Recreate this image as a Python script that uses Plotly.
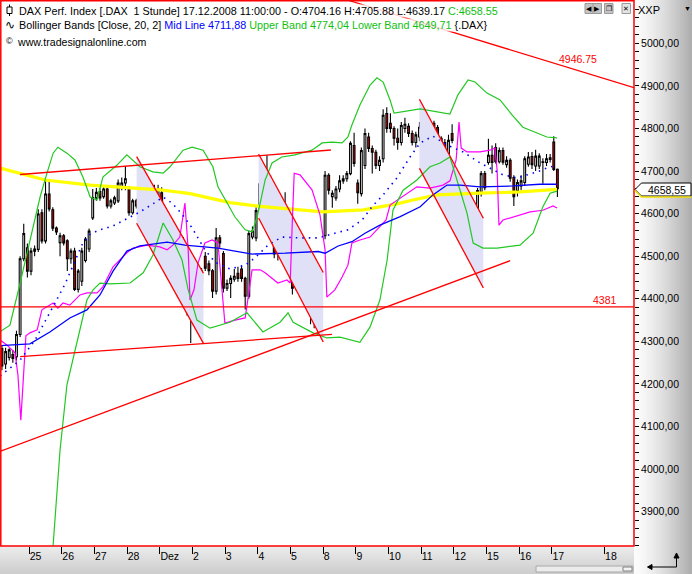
import plotly.graph_objects as go

W, H = 692, 574

# ---------------- data: hourly DAX bars (first visible bar = index -8, Nov 24 2008) ----------------
first_bar = -8
bar_open = [4283, 4247, 4262, 4269, 4264, 4316, 4494, 4520,
            4465, 4512, 4516, 4602, 4536, 4646, 4609, 4566, 4532,
            4548, 4536, 4494, 4512, 4422, 4441, 4490, 4517, 4590,
            4637, 4652, 4640, 4658, 4618, 4625, 4630, 4662, 4672,
            4661, 4602, 4630, 4618, 4595, 4618, 4654, 4637, 4640,
            4649, 4599, 4555, 4512, 4545, 4530, 4536, 4458, 4370,
            4366, 4388, 4436, 4500, 4482, 4466, 4418, 4543, 4506,
            4425, 4436, 4446, 4460, 4470, 4448, 4406, 4545, 4543,
            4607, 4670, 4690, 4677, 4654, 4505, 4590, 4590, 4600,
            4530, 4436, 4472, 4460, 4448, 4413, 4385, 4354, 4375,
            4548, 4690, 4640, 4637, 4658, 4677, 4682, 4694, 4760,
            4672, 4647, 4713, 4780, 4753, 4744, 4713, 4729, 4835,
            4812, 4800, 4777, 4767, 4800, 4805, 4788, 4767, 4780,
            4803, 4731, 4748, 4812, 4802, 4777, 4767, 4740, 4788,
            4661, 4605, 4578, 4556, 4556, 4578, 4611, 4649, 4694,
            4720, 4737, 4755, 4722, 4748, 4715, 4725, 4685, 4654,
            4665, 4673, 4716, 4734, 4712, 4712, 4720, 4720, 4727,
            4768, 4704.16]
bar_high = [4290, 4285, 4284, 4280, 4325, 4500, 4576, 4530,
            4520, 4525, 4610, 4610, 4676, 4676, 4615, 4570, 4555,
            4552, 4540, 4518, 4520, 4470, 4520, 4545, 4565, 4658,
            4660, 4660, 4662, 4665, 4635, 4642, 4680, 4685, 4712,
            4665, 4635, 4635, 4625, 4640, 4645, 4660, 4668, 4668,
            4662, 4605, 4562, 4540, 4550, 4548, 4545, 4465, 4398,
            4395, 4440, 4472, 4510, 4490, 4470, 4566, 4550, 4512,
            4445, 4455, 4470, 4475, 4478, 4452, 4560, 4570, 4615,
            4676, 4720, 4737, 4690, 4660, 4600, 4615, 4650, 4605,
            4535, 4480, 4476, 4470, 4455, 4420, 4390, 4380, 4400,
            4700, 4695, 4655, 4665, 4690, 4690, 4700, 4770, 4790,
            4680, 4755, 4800, 4790, 4760, 4750, 4735, 4845, 4850,
            4836, 4805, 4800, 4815, 4825, 4812, 4795, 4792, 4815,
            4810, 4760, 4820, 4818, 4808, 4782, 4775, 4785, 4810,
            4668, 4612, 4585, 4570, 4585, 4620, 4660, 4700, 4700,
            4776, 4760, 4765, 4755, 4755, 4735, 4730, 4690, 4680,
            4690, 4735, 4745, 4745, 4750, 4742, 4730, 4740, 4740,
            4782, 4705.88]
bar_low = [4232, 4235, 4255, 4250, 4255, 4310, 4488, 4450,
           4455, 4500, 4510, 4530, 4530, 4605, 4559, 4550, 4500,
           4525, 4465, 4482, 4418, 4415, 4430, 4485, 4510, 4585,
           4630, 4630, 4635, 4612, 4612, 4620, 4625, 4655, 4655,
           4595, 4598, 4612, 4566, 4580, 4612, 4630, 4632, 4635,
           4590, 4548, 4490, 4500, 4520, 4515, 4450, 4360, 4296,
           4350, 4380, 4430, 4465, 4455, 4402, 4410, 4520, 4415,
           4418, 4402, 4440, 4440, 4440, 4375, 4400, 4540, 4535,
           4600, 4660, 4680, 4645, 4495, 4490, 4575, 4580, 4520,
           4410, 4420, 4420, 4430, 4400, 4340, 4331, 4318, 4365,
           4540, 4645, 4614, 4630, 4650, 4670, 4675, 4690, 4710,
           4623, 4640, 4705, 4745, 4694, 4705, 4700, 4720, 4790,
           4790, 4760, 4750, 4760, 4790, 4780, 4760, 4755, 4770,
           4720, 4725, 4740, 4790, 4760, 4725, 4715, 4735, 4765,
           4590, 4560, 4545, 4520, 4545, 4570, 4605, 4640, 4655,
           4715, 4694, 4718, 4718, 4715, 4708, 4675, 4618, 4640,
           4655, 4665, 4710, 4705, 4700, 4705, 4670, 4712, 4720,
           4700, 4639.17]
bar_close = [4242, 4276, 4280, 4260, 4316, 4494, 4553, 4465,
             4512, 4517, 4599, 4536, 4646, 4611, 4566, 4557, 4548,
             4531, 4494, 4512, 4422, 4465, 4512, 4540, 4559, 4638,
             4650, 4637, 4658, 4618, 4630, 4637, 4672, 4672, 4682,
             4602, 4630, 4618, 4595, 4618, 4640, 4637, 4654, 4658,
             4599, 4559, 4512, 4536, 4530, 4538, 4458, 4375, 4390,
             4388, 4436, 4465, 4472, 4466, 4418, 4543, 4531, 4425,
             4436, 4448, 4453, 4448, 4448, 4406, 4553, 4559, 4607,
             4670, 4696, 4700, 4654, 4505, 4590, 4602, 4613, 4559,
             4425, 4472, 4441, 4441, 4413, 4382, 4354, 4375, 4395,
             4690, 4655, 4648, 4658, 4677, 4682, 4694, 4765, 4718,
             4649, 4748, 4788, 4753, 4744, 4713, 4725, 4831, 4800,
             4800, 4777, 4767, 4807, 4810, 4788, 4767, 4785, 4803,
             4731, 4748, 4812, 4802, 4772, 4748, 4725, 4772, 4772,
             4595, 4578, 4566, 4562, 4578, 4611, 4654, 4694, 4661,
             4737, 4720, 4722, 4748, 4721, 4725, 4683, 4640, 4673,
             4677, 4729, 4733, 4715, 4735, 4735, 4722, 4729, 4731,
             4704, 4658.55]
bars = list(range(first_bar, first_bar + len(bar_close)))

# x-axis day labels (tick at the start of each trading day, 9 hourly bars per day)
day_labels = ["25", "26", "27", "28", "Dez", "2", "3", "4", "5", "8",
              "9", "10", "11", "12", "15", "16", "17", "18"]
day_ticks = [-0.5, 8.5, 17.5, 26.5, 35.5, 44.5, 53.5, 62.5, 71.5, 80.5,
             89.5, 98.5, 107.5, 116.5, 125.5, 134.5, 143.5, 158.0]
price_ticks = [3900, 4000, 4100, 4200, 4300, 4400, 4500, 4600, 4700, 4800, 4900, 5000]

# indicator lines (bar index, value)
yellow_x = [-8.5, -3.0, 3.9, 16.3, 27.3, 35.5, 43.8, 54.8, 63.1, 73.0, 80.4, 91.5, 96.1,
            100.8, 105.2, 111.8, 123.7, 134.7, 144.9]
yellow_y = [4707, 4695, 4679, 4667, 4660, 4656, 4647, 4626, 4617, 4609, 4604, 4609, 4616,
            4623, 4632, 4644, 4648, 4651, 4657]

ma_x = [-8.5, -0.3, 5.2, 10.7, 15.4, 19.0, 22.6, 26.4, 30.0, 37.5, 42.4, 51.5, 60.9, 70.0,
        79.1, 81.0, 84.6, 88.4, 92.0, 96.1, 101.7, 107.2, 110.7, 114.6, 118.2, 123.7, 132.8,
        140.2, 144.9]
ma_y = [4290, 4294, 4322, 4355, 4374, 4409, 4465, 4512, 4524, 4533, 4526, 4519, 4505, 4507,
        4511, 4507, 4524, 4534, 4554, 4573, 4593, 4616, 4644, 4667, 4667, 4663, 4665,
        4669, 4669]

bb_mid_x = [-8.5, -3.0, 1.1, 3.9, 6.6, 9.4, 11.6, 14.0, 16.3, 19.0, 22.6, 26.4, 30.0, 33.6,
            36.4, 38.8, 41.6, 44.4, 47.9, 50.7, 54.8, 59.0, 61.7, 65.3, 69.1, 74.1, 79.1,
            83.7, 87.3, 91.2, 93.9, 97.0, 100.8, 104.4, 107.2, 110.7, 114.6, 119.0, 123.7,
            126.4, 130.0, 133.9, 136.6, 139.4, 142.1, 144.9]
bb_mid_y = [4219, 4256, 4303, 4346, 4390, 4435, 4479, 4526, 4552, 4562, 4571, 4587, 4604,
            4623, 4639, 4625, 4599, 4566, 4515, 4486, 4470, 4479, 4496, 4526, 4545, 4543,
            4543, 4554, 4562, 4585, 4616, 4644, 4684, 4733, 4766, 4782, 4761, 4745, 4719,
            4707, 4691, 4684, 4691, 4698, 4707, 4714]

bb_up_x = [-8.5, -5.8, -3.0, -0.3, 2.5, 4.4, 6.1, 7.4, 9.9, 12.1, 14.3, 16.3, 18.2, 19.8,
           23.7, 26.4, 30.0, 33.6, 36.4, 38.3, 41.9, 44.4, 47.4, 50.1, 51.5, 56.2, 59.0,
           60.9, 62.3, 64.5, 66.4, 69.1, 72.7, 77.4, 80.2, 82.9, 85.7, 87.3, 88.4, 90.6,
           93.4, 95.3, 97.0, 98.9, 100.0, 107.2, 115.4, 117.6, 120.4, 122.3, 125.6, 129.2,
           132.5, 135.5, 142.1, 144.9]
bb_up_y = [4323, 4338, 4437, 4538, 4639, 4695, 4742, 4756, 4742, 4726, 4686, 4639, 4632,
           4686, 4714, 4738, 4710, 4698, 4695, 4710, 4749, 4756, 4749, 4710, 4663, 4592,
           4562, 4557, 4592, 4679, 4719, 4733, 4738, 4749, 4766, 4768, 4766, 4780, 4808,
           4855, 4902, 4919, 4909, 4867, 4836, 4846, 4834, 4879, 4914, 4909, 4883, 4867,
           4832, 4803, 4780, 4778]

bb_lo_x = [5.8, 8.0, 9.9, 12.7, 15.4, 17.1, 19.0, 21.8, 27.3, 30.9, 33.6, 36.4, 39.1, 41.6,
           43.3, 45.7, 49.3, 54.8, 59.5, 63.9, 68.6, 70.8, 72.2, 77.7, 81.5, 85.1, 88.7,
           90.6, 93.4, 96.1, 98.1, 99.7, 102.5, 106.3, 109.9, 112.7, 115.4, 117.4, 120.1,
           121.8, 124.5, 128.4, 134.7, 138.3, 141.0, 143.0, 144.9]
bb_lo_y = [3787, 4045, 4198, 4303, 4397, 4421, 4437, 4435, 4437, 4461, 4503, 4578, 4538,
           4491, 4421, 4350, 4331, 4345, 4367, 4322, 4345, 4367, 4345, 4320, 4308, 4310,
           4303, 4298, 4334, 4397, 4491, 4608, 4655, 4679, 4710, 4719, 4733, 4679, 4601,
           4531, 4519, 4519, 4526, 4554, 4616, 4648, 4653]

env_x = [-8.5, -6.6, -4.4, -3.6, -2.8, -2.2, -1.4, -0.3, 1.7, 3.0, 4.4, 6.1, 7.4, 8.8, 10.7,
         13.5, 15.4, 18.2, 19.8, 22.6, 26.4, 28.1, 32.0, 35.5, 37.5, 39.1, 41.0, 41.9, 42.4,
         43.3, 43.8, 44.9, 46.0, 47.9, 49.9, 51.5, 52.6, 53.4, 56.2, 59.0, 60.9, 63.1, 64.5,
         68.0, 70.5, 71.4, 71.9, 72.5, 74.1, 77.4, 79.6, 81.0, 81.5, 83.7, 85.7, 87.3, 88.4,
         90.6, 93.4, 97.8, 98.9, 102.5, 106.3, 109.9, 113.5, 115.4, 117.1, 117.9, 118.5,
         120.1, 123.7, 126.4, 127.8, 128.4, 128.9, 130.0, 133.9, 137.5, 141.0, 143.8, 144.9]
env_y = [4303, 4291, 4273, 4221, 4115, 4198, 4313, 4320, 4327, 4374, 4381, 4390, 4378, 4390,
         4385, 4409, 4414, 4414, 4428, 4475, 4508, 4519, 4526, 4522, 4515, 4526, 4545, 4601,
         4625, 4515, 4397, 4421, 4484, 4531, 4538, 4531, 4432, 4343, 4350, 4355, 4468, 4468,
         4461, 4437, 4444, 4437, 4562, 4695, 4691, 4656, 4597, 4515, 4404, 4421, 4451, 4479,
         4531, 4538, 4545, 4585, 4620, 4641, 4663, 4660, 4667, 4677, 4726, 4815, 4754, 4745,
         4745, 4749, 4754, 4702, 4573, 4585, 4594, 4604, 4608, 4618, 4613]

# drawn trend lines: (bar, value) end points
resist_x, resist_y = [87.1, 166.1], [5101.7, 4896.0]
support_x, support_y = [-8.54, 132.0], [4041.4, 4489.4]
floor_x, floor_y = [-3.0, 82.9], [4264.0, 4316.4]
ceiling_x, ceiling_y = [-3.0, 82.6], [4691.9, 4749.4]
level_value = 4381
channels = [  # (x0, x1, upper0, upper1, lower0, lower1)
    (29.1, 47.5, 4733.7, 4459.9, 4577.3, 4295.4),
    (62.7, 80.5, 4740.0, 4461.7, 4589.7, 4298.5),
    (107.0, 124.6, 4868.5, 4589.0, 4706.4, 4425.3),
]

# ---------------- figure ----------------
X_RANGE = [-8.54, 166.1]
Y_RANGE = [3819.4, 5101.7]
PLOT_R = 634   # px
PLOT_B = 546   # px


def px(x):
    return x / W


def py(y):
    return 1 - y / H


fig = go.Figure()

# channel shading
for (x0, x1, u0, u1, l0, l1) in channels:
    fig.add_trace(go.Scatter(x=[x0, x1, x1, x0, x0], y=[u0, u1, l1, l0, u0], mode="lines",
                             fill="toself", fillcolor="#e0e0f7", line=dict(width=0),
                             hoverinfo="skip", showlegend=False))

# indicators
fig.add_trace(go.Scatter(x=yellow_x, y=yellow_y, mode="lines",
                         line=dict(color="#ffff00", width=3.2), hoverinfo="skip", showlegend=False))
fig.add_trace(go.Scatter(x=env_x, y=env_y, mode="lines",
                         line=dict(color="#ff00ff", width=1.2), hoverinfo="skip", showlegend=False))
fig.add_trace(go.Scatter(x=bb_up_x, y=bb_up_y, mode="lines",
                         line=dict(color="#22c822", width=1.2), hoverinfo="skip", showlegend=False))
fig.add_trace(go.Scatter(x=bb_lo_x, y=bb_lo_y, mode="lines",
                         line=dict(color="#22c822", width=1.2), hoverinfo="skip", showlegend=False))
fig.add_trace(go.Scatter(x=ma_x, y=ma_y, mode="lines",
                         line=dict(color="#0000ff", width=1.3), hoverinfo="skip", showlegend=False))
fig.add_trace(go.Scatter(x=bb_mid_x, y=bb_mid_y, mode="lines",
                         line=dict(color="#0000ff", width=1.6, dash="1.5px,5px"),
                         hoverinfo="skip", showlegend=False))

# candles
fig.add_trace(go.Candlestick(
    x=bars, open=bar_open, high=bar_high, low=bar_low, close=bar_close,
    increasing=dict(line=dict(color="black", width=1.1), fillcolor="white"),
    decreasing=dict(line=dict(color="black", width=1.1), fillcolor="#e00000"),
    whiskerwidth=0, hoverinfo="skip", showlegend=False))

# red lines
red = dict(color="#ff0000", width=1.3)
for xs, ys in [(resist_x, resist_y), (support_x, support_y), (floor_x, floor_y), (ceiling_x, ceiling_y),
               (X_RANGE, [level_value, level_value])]:
    fig.add_trace(go.Scatter(x=xs, y=ys, mode="lines", line=red, hoverinfo="skip", showlegend=False))
for (x0, x1, u0, u1, l0, l1) in channels:
    fig.add_trace(go.Scatter(x=[x0, x1], y=[u0, u1], mode="lines", line=red, hoverinfo="skip", showlegend=False))
    fig.add_trace(go.Scatter(x=[x0, x1], y=[l0, l1], mode="lines", line=red, hoverinfo="skip", showlegend=False))

shapes = []
# right axis gradient
n = 29
for i in range(n):
    t = i / (n - 1)
    g = int(252 - 78 * t ** 1.4)
    shapes.append(dict(type="rect", xref="paper", yref="paper", layer="below",
                       x0=px(PLOT_R + i * 2), x1=px(PLOT_R + i * 2 + 2.2), y0=0, y1=1,
                       fillcolor=f"rgb({g},{g},{g})", line=dict(width=0)))
# bottom band gradient
m = 14
for i in range(m):
    t = i / (m - 1)
    g = int(236 - 30 * t)
    shapes.append(dict(type="rect", xref="paper", yref="paper", layer="below",
                       x0=0, x1=px(PLOT_R), y0=py(PLOT_B + i * 2 + 2.2), y1=py(PLOT_B + i * 2),
                       fillcolor=f"rgb({g},{g},{g})", line=dict(width=0)))
# scrollbar
shapes.append(dict(type="rect", xref="paper", yref="paper", layer="above",
                   x0=px(536), x1=px(633), y0=py(572), y1=py(566),
                   fillcolor="#ececec", line=dict(color="#a8a8a8", width=1)))
shapes.append(dict(type="rect", xref="paper", yref="paper", layer="above",
                   x0=px(623), x1=px(632), y0=py(571), y1=py(567),
                   fillcolor="#f4f4f4", line=dict(color="#808080", width=1)))
# red chart border
shapes.append(dict(type="rect", xref="paper", yref="paper", layer="above",
                   x0=px(0.8), x1=px(PLOT_R), y0=py(PLOT_B), y1=py(0.8),
                   line=dict(color="#ff0000", width=1.5)))
# last price box
box = (f"M {px(635)},{py(189.5)} L {px(641.5)},{py(183)} L {px(691)},{py(183)} "
       f"L {px(691)},{py(196)} L {px(641.5)},{py(196)} Z")
shapes.append(dict(type="path", path=box, xref="paper", yref="paper", layer="above",
                   fillcolor="white", line=dict(color="black", width=1)))
shapes.append(dict(type="path", xref="paper", yref="paper", layer="above",
                   path=f"M {px(635)},{py(190.5)} L {px(641.5)},{py(197)} L {px(691)},{py(197)}",
                   line=dict(color="#f0e000", width=1.5)))
# candle icon in header
shapes.append(dict(type="line", xref="paper", yref="paper", layer="above",
                   x0=px(9.5), x1=px(9.5), y0=py(4.5), y1=py(16), line=dict(color="black", width=1)))
shapes.append(dict(type="rect", xref="paper", yref="paper", layer="above",
                   x0=px(7), x1=px(12), y0=py(13.5), y1=py(7), fillcolor="white",
                   line=dict(color="black", width=1)))
# window buttons
for x0 in (585, 593, 604.5, 622):
    shapes.append(dict(type="rect", xref="paper", yref="paper", layer="above",
                       x0=px(x0), x1=px(x0 + 8.5), y0=py(13.5), y1=py(3.5),
                       fillcolor="#c4c4c4" if x0 != 622 else "#e4e4e4",
                       line=dict(color="#9a9a9a", width=1)))
# corner arrow icon
shapes.append(dict(type="path", xref="paper", yref="paper", layer="above",
                   path=f"M {px(650)},{py(567)} L {px(676.5)},{py(567)} L {px(676.5)},{py(556)}",
                   line=dict(color="black", width=1)))
shapes.append(dict(type="path", xref="paper", yref="paper", layer="above",
                   path=f"M {px(674)},{py(558)} L {px(679)},{py(558)} L {px(676.5)},{py(553)} Z",
                   fillcolor="black", line=dict(color="black", width=1)))
shapes.append(dict(type="path", xref="paper", yref="paper", layer="above",
                   path=f"M {px(652)},{py(564.5)} L {px(652)},{py(569.5)} L {px(647.5)},{py(567)} Z",
                   fillcolor="black", line=dict(color="black", width=1)))

FONT = "Liberation Sans, Arial, sans-serif"
ann = []


def text(x, y, s, size=10.5, color="black", xanchor="left", bg=None, xref="paper", yref="paper"):
    d = dict(x=x, y=y, xref=xref, yref=yref, text=s, showarrow=False, xanchor=xanchor,
             yanchor="middle", font=dict(family=FONT, size=size, color=color), borderpad=0)
    if bg:
        d["bgcolor"] = bg
    ann.append(d)


HBG = "rgba(255,255,255,0.82)"
HS = 10.8
text(px(18), py(10.5),
     'DAX Perf. Index [.DAX&nbsp; 1 Stunde] 17.12.2008 11:00:00 - O:4704.16 H:4705.88 L:4639.17 '
     '<span style="color:#10c010">C:4658.55</span>', size=HS, bg=HBG)
text(px(18), py(25),
     'Bollinger Bands [Close, 20, 2] <span style="color:#0000ff">Mid Line 4711,88</span>'
     '<span style="color:#10c010"> Upper Band 4774,04 Lower Band 4649,71</span> {.DAX}', size=HS, bg=HBG)
text(px(16), py(41.5), 'www.tradesignalonline.com', size=10.6, bg=HBG)
text(px(4), py(25), '∿', size=12)
text(px(4.5), py(41), '©', size=9)
# line labels
text(px(577.5), py(58.5), '4946.75', color="#ff0000", xanchor="center")
text(px(617.5), py(300), '4381', color="#ff0000", xanchor="right")
# right panel header
text(px(637), py(9.5), 'XXP', size=11)
text(px(687), py(8.5), '▼', size=7, xanchor="center")
# last price
text(px(667), py(189.5), '4658,55', size=10.5, xanchor="center")
# button glyphs
for xc, g in ((589.3, '◀'), (597.3, '▶'), (608.8, '❐'), (626.3, '✕')):
    text(px(xc), py(8.5), g, size=7, xanchor="center")

fig.update_layout(
    width=W, height=H, margin=dict(l=0, r=0, t=0, b=0),
    paper_bgcolor="white", plot_bgcolor="white",
    separators=",.", showlegend=False,
    shapes=shapes, annotations=ann,
    font=dict(family=FONT, size=10.5, color="black"),
    xaxis=dict(domain=[0, px(PLOT_R)], range=X_RANGE, tickvals=day_ticks, ticktext=day_labels,
               ticks="outside", ticklen=7, tickcolor="black", tickwidth=1,
               ticklabelposition="outside right", showgrid=False, zeroline=False,
               showline=False, rangeslider=dict(visible=False), fixedrange=True,
               tickfont=dict(family=FONT, size=10.5, color="black")),
    yaxis=dict(domain=[py(PLOT_B), 1], range=Y_RANGE, side="right", anchor="x",
               tickvals=price_ticks, tickformat=".2f", ticks="outside", ticklen=4,
               tickcolor="black", showgrid=False, zeroline=False, showline=False,
               tickfont=dict(family=FONT, size=10.5, color="black"),
               minor=dict(tickvals=[v for v in range(3820, 5101, 20) if v % 100],
                          ticks="outside", ticklen=4, tickcolor="black", showgrid=False)),
)

fig.write_html("out.html", config={"displayModeBar": False},
               post_script="document.body.style.margin='0px';document.body.style.overflow='hidden';")
